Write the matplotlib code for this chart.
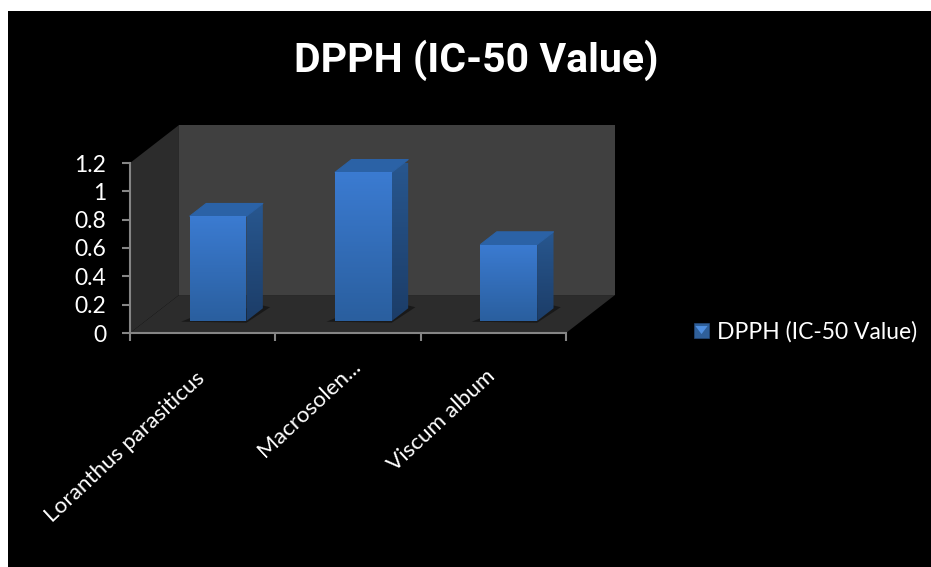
import numpy as np
import matplotlib
matplotlib.use("Agg")
import matplotlib.pyplot as plt
from matplotlib.colors import LinearSegmentedColormap
from matplotlib.legend_handler import HandlerBase
from matplotlib.patches import Patch, Polygon, Rectangle
from matplotlib.transforms import ScaledTranslation

categories = ["Loranthus parasiticus", "Macrosolen...", "Viscum album"]
dpph_ic50 = [0.74, 1.05, 0.54]
y_ticks = [0, 0.2, 0.4, 0.6, 0.8, 1, 1.2]
y_labels = ["0", "0.2", "0.4", "0.6", "0.8", "1", "1.2"]
series_name = "DPPH (IC-50 Value)"
title = "DPPH (IC-50 Value)"

W, H = 931, 567
# pseudo-3D box: how far the back wall sits from the front, in data units
DEPTH_X, DEPTH_Y = 0.337, 0.268
BAR_W = 0.39
BAR_NEAR, BAR_FAR = 0.316, 0.65   # fraction of the depth the bars occupy

WALL = "#404040"
SIDE = "#2c2c2c"
AXIS = "#858585"
SANS = ["Lato", "DejaVu Sans"]


def shift(x, y, frac):
    return x + DEPTH_X * frac, y + DEPTH_Y * frac


def gradient_face(ax, verts, top, bottom, z):
    verts = np.array(verts)
    cmap = LinearSegmentedColormap.from_list("face", [top, bottom])
    im = ax.imshow(np.linspace(0, 1, 64)[:, None], cmap=cmap, aspect="auto",
                   extent=(verts[:, 0].min(), verts[:, 0].max(),
                           verts[:, 1].min(), verts[:, 1].max()),
                   zorder=z, clip_on=True)
    clip = Polygon(verts, transform=ax.transData)
    im.set_clip_path(clip)


def draw_bar(ax, xc, v):
    x0 = xc - BAR_W / 2
    fl, fb = shift(x0, 0, BAR_NEAR)
    fr = fl + BAR_W
    ft = fb + v
    dx = DEPTH_X * (BAR_FAR - BAR_NEAR)
    dy = DEPTH_Y * (BAR_FAR - BAR_NEAR)
    # contact shadow on the floor
    ax.add_patch(Polygon([(fl - 0.06, fb - 0.005), (fr, fb - 0.012), (fr + dx + 0.05, fb + dy + 0.008),
                          (fr + dx, fb + dy + 0.02), (fl, fb + 0.02)],
                         fc="#191919", ec="none", clip_on=False, zorder=3))
    gradient_face(ax, [(fr, fb), (fr + dx, fb + dy), (fr + dx, ft + dy), (fr, ft)],
                  "#28578f", "#1c3d68", 4)
    ax.add_patch(Polygon([(fl, ft), (fr, ft), (fr + dx, ft + dy), (fl + dx, ft + dy)],
                         fc="#2b62a6", ec="#2b62a6", lw=0.8, joinstyle="round",
                         clip_on=False, zorder=5))
    gradient_face(ax, [(fl, fb), (fr, fb), (fr, ft), (fl, ft)],
                  "#3b7bd1", "#2a5f9f", 6)


class BevelHandler(HandlerBase):
    # small bevelled square used as the legend key
    def create_artists(self, legend, orig, xd, yd, width, height, fontsize, trans):
        s = 10.8
        x, y = -xd, (height - s) / 2 - yd
        base = Rectangle((x, y), s, s, fc="#2f5f99", ec="#24497a", lw=0.5, transform=trans)
        tri = Polygon([(x + 1, y + s - 2), (x + s - 1, y + s - 2), (x + s / 2, y + 3)],
                      fc="#4f8fe0", ec="none", transform=trans)
        return [base, tri]


fig = plt.figure(figsize=(W / 100, H / 100), dpi=100, facecolor="white")
fig.add_artist(Rectangle((8 / W, 0), 1 - 8 / W, 1 - 11 / H, transform=fig.transFigure,
                         fc="black", ec="none", zorder=-5))
ax = fig.add_axes([130 / W, (H - 333) / H, 436 / W, 170 / H])
ax.patch.set_alpha(0)

# back wall, side wall and floor
ax.add_patch(Polygon([shift(0, 0, 1), shift(3, 0, 1), shift(3, 1.2, 1), shift(0, 1.2, 1)],
                     fc=WALL, ec="none", clip_on=False, zorder=1))
ax.add_patch(Polygon([(0, 0), shift(0, 0, 1), shift(0, 1.2, 1), (0, 1.2)],
                     fc=SIDE, ec="none", clip_on=False, zorder=1))
ax.add_patch(Polygon([(0, 0), (3, 0), shift(3, 0, 1), shift(0, 0, 1)],
                     fc=SIDE, ec="none", clip_on=False, zorder=2))

for i, v in enumerate(dpph_ic50):
    draw_bar(ax, i + 0.5, v)

ax.set_xlim(0, 3)
ax.set_ylim(0, 1.2)
ax.set_yticks(y_ticks)
ax.set_yticklabels(y_labels, fontsize=16.5, color="white", family=SANS)
ax.set_xticks([0, 1, 2, 3])
ax.set_xticklabels([])
ax.set_xticks([0.5, 1.5, 2.5], minor=True)
ax.set_xticklabels(categories, minor=True, rotation=43, ha="right", va="top",
                   rotation_mode="anchor", fontsize=16.2, color="white", family=SANS)
ax.tick_params(axis="both", which="major", length=6, width=1.5, color=AXIS)
ax.tick_params(axis="x", which="minor", length=0, pad=24)
ax.tick_params(axis="y", pad=11)
# per-label offsets in pixels, the rotated labels do not end on the category centre
for lab, (ox, oy) in zip(ax.get_xticklabels(minor=True), [(-7.7, -2), (3.3, 10), (-7.7, 0)]):
    lab.set_transform(lab.get_transform() + ScaledTranslation(ox / 100, oy / 100, fig.dpi_scale_trans))
for sp in ("top", "right"):
    ax.spines[sp].set_visible(False)
for sp in ("left", "bottom"):
    ax.spines[sp].set_color(AXIS)
    ax.spines[sp].set_linewidth(1.5)
    ax.spines[sp].set_zorder(8)

fig.text(476 / W, 1 - 60 / H, title, ha="center", va="center", fontsize=29.5,
         fontweight="bold", color="white", family=["Roboto", "DejaVu Sans"])

fig.legend([Patch()], [series_name], handler_map={Patch: BevelHandler()},
           loc="center left", bbox_to_anchor=(694 / W, 1 - 332 / H), frameon=False,
           labelcolor="white", prop={"family": SANS, "size": 16.5},
           borderpad=0, borderaxespad=0, handlelength=0.65, handletextpad=0.35)

fig.savefig("out.png", dpi=100, facecolor=fig.get_facecolor())
